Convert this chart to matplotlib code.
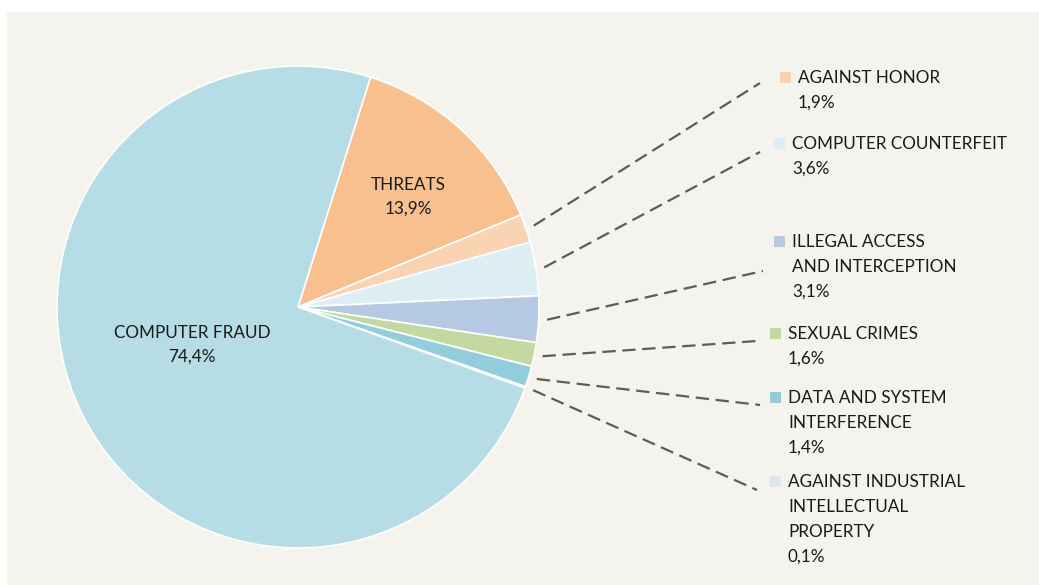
import numpy as np
import matplotlib
matplotlib.use("Agg")
from matplotlib import pyplot as plt
from matplotlib.patches import Rectangle

# Dữ liệu
categories = ["THREATS", "AGAINST HONOR", "COMPUTER COUNTERFEIT",
              "ILLEGAL ACCESS\nAND INTERCEPTION", "SEXUAL CRIMES",
              "DATA AND SYSTEM\nINTERFERENCE",
              "AGAINST INDUSTRIAL\nINTELLECTUAL\nPROPERTY", "COMPUTER FRAUD"]
values = [13.9, 1.9, 3.6, 3.1, 1.6, 1.4, 0.1, 74.4]
colors = ["#f9c08f", "#fad3b3", "#dcedf4", "#b6c9e3", "#c3d9a0",
          "#92cddc", "#dbe6f0", "#b6dce6"]
value_labels = ["13,9%", "1,9%", "3,6%", "3,1%", "1,6%", "1,4%", "0,1%", "74,4%"]

plt.rcParams['font.family'] = ['Lato', 'DejaVu Sans']

W, H = 1039, 585
fig = plt.figure(figsize=(W / 100, H / 100), dpi=100)
fig.patch.set_facecolor("white")
ax = fig.add_axes([0, 0, 1, 1])
ax.axis("off")

# Nền be
ax.add_patch(Rectangle((7, 0), W - 7, H - 12, facecolor="#f4f3ee",
                       edgecolor="none", zorder=0))

cx, cy, R = 298, H - 307, 241
start = 72.5
wedges, _ = ax.pie(values, colors=colors, startangle=start, counterclock=False,
                   center=(cx, cy), radius=R,
                   wedgeprops=dict(edgecolor="white", linewidth=1.2))
for w in wedges:
    w.set_zorder(2)

ax.set_xlim(0, W)
ax.set_ylim(0, H)
ax.set_aspect("auto")

# Nhãn bên trong
ax.text(408, H - 197, categories[0] + "\n" + value_labels[0], ha="center", va="center",
        fontsize=12.3, color="#1a1a1a", linespacing=1.55, zorder=3)
ax.text(192, H - 345, categories[7] + "\n" + value_labels[7], ha="center", va="center",
        fontsize=12.3, color="#1a1a1a", linespacing=1.55, zorder=3)

# Nhãn bên phải (chú thích) với đường nét đứt
label_top = [78, 144, 242, 334, 398, 482]
marker_x = [780, 774, 774, 770, 770, 770]
line_end = [(760, 83), (760, 152), (763, 271), (757, 341), (760, 405), (757, 490)]
line_step = 25

for i in range(1, 7):
    theta = np.deg2rad((wedges[i].theta1 + wedges[i].theta2) / 2)
    x0 = cx + R * 1.035 * np.cos(theta)
    y0 = cy + R * 1.035 * np.sin(theta)
    ex, ey = line_end[i - 1]
    ax.plot([x0, ex], [y0, H - ey], ls=(0, (6, 3)), color="#5e5d4e", lw=1.6, zorder=3)

    top = label_top[i - 1]
    mx = marker_x[i - 1]
    ax.add_patch(Rectangle((mx, H - top - 5), 11, 11, facecolor=colors[i],
                           edgecolor="none", zorder=3))
    lines = categories[i].split("\n") + [value_labels[i]]
    for k, s in enumerate(lines):
        ax.text(mx + 18, H - top - k * line_step, s, ha="left", va="center",
                fontsize=12.3, color="#1a1a1a", zorder=3)

fig.savefig("out.png", dpi=100, facecolor=fig.get_facecolor())
